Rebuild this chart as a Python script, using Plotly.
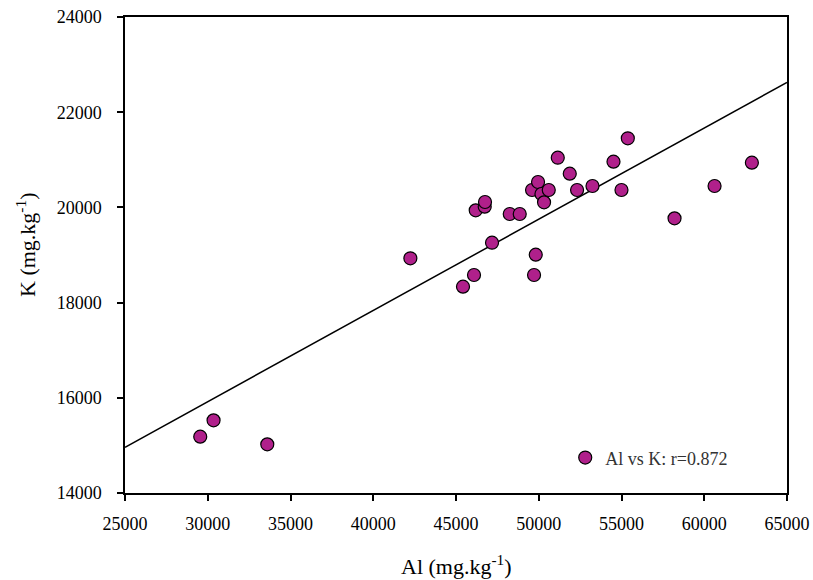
import numpy as np
import plotly.graph_objects as go

# Aluminium and potassium concentrations (mg/kg)
al = [29546, 30351, 33597, 42243, 45423, 46088, 47177, 46191, 46735, 46753,
      48247, 48851, 49819, 49716, 49595, 49958, 50163, 50320, 50605, 51149,
      51874, 52316, 53247, 54516, 54999, 55381, 58204, 60623, 62878]
k = [15183, 15527, 15023, 18931, 18334, 18580, 19258, 19939, 20015, 20113,
     19861, 19861, 19007, 18580, 20366, 20534, 20282, 20107, 20366, 21044,
     20708, 20366, 20450, 20960, 20366, 21452, 19770, 20450, 20939]

x_range = [25000, 65000]
y_range = [14000, 24000]
x_ticks = [25000, 30000, 35000, 40000, 45000, 50000, 55000, 60000, 65000]
y_ticks = [14000, 16000, 18000, 20000, 22000, 24000]
series_name = "Al vs K: r=0.872"
x_title = "Al (mg.kg<sup>-1</sup>)"
y_title = "K (mg.kg<sup>-1</sup>)"

# Least-squares trend line across the full axis width
slope, intercept = np.polyfit(al, k, 1)
fit_x = np.array(x_range, dtype=float)
fit_y = slope * fit_x + intercept

FONT = "Liberation Serif, Times New Roman, serif"

fig = go.Figure()
fig.add_trace(go.Scatter(
    x=fit_x, y=fit_y, mode="lines",
    line=dict(color="black", width=1.5),
    showlegend=False, hoverinfo="skip",
))
fig.add_trace(go.Scatter(
    x=al, y=k, mode="markers", name=series_name,
    marker=dict(size=13, color="#B0208B",
                line=dict(color="black", width=1.2)),
))

axis_common = dict(
    showgrid=False, zeroline=False, showline=True, mirror=True,
    linecolor="black", linewidth=1.5, ticks="outside", ticklen=6,
    tickwidth=1.5, tickcolor="black", automargin=False,
    tickfont=dict(family=FONT, size=18, color="black"),
)

fig.update_layout(
    width=813, height=580,
    margin=dict(l=125, r=26, t=17, b=87, autoexpand=False),
    paper_bgcolor="white", plot_bgcolor="white",
    font=dict(family=FONT, color="black"),
    xaxis=dict(range=x_range, tickvals=x_ticks, tickformat="d",
               ticklabelstandoff=8, **axis_common),
    yaxis=dict(range=y_range, tickvals=y_ticks, tickformat="d",
               ticklabelstandoff=12, **axis_common),
    legend=dict(x=0.665, y=0.035, xanchor="left", yanchor="bottom",
                bgcolor="rgba(0,0,0,0)", itemwidth=30,
                font=dict(family=FONT, size=18, color="#333333")),
    showlegend=True,
    annotations=[
        dict(text=x_title, xref="paper", yref="paper",
             x=(456 - 125) / 662, y=(493 - 565) / 476,
             xanchor="center", yanchor="middle", showarrow=False,
             font=dict(family=FONT, size=22, color="black")),
        dict(text=y_title, xref="paper", yref="paper", textangle=-90,
             x=(26 - 125) / 662, y=(493 - 245) / 476,
             xanchor="center", yanchor="middle", showarrow=False,
             font=dict(family=FONT, size=22, color="black")),
    ],
)

fig.write_html("out.html")
